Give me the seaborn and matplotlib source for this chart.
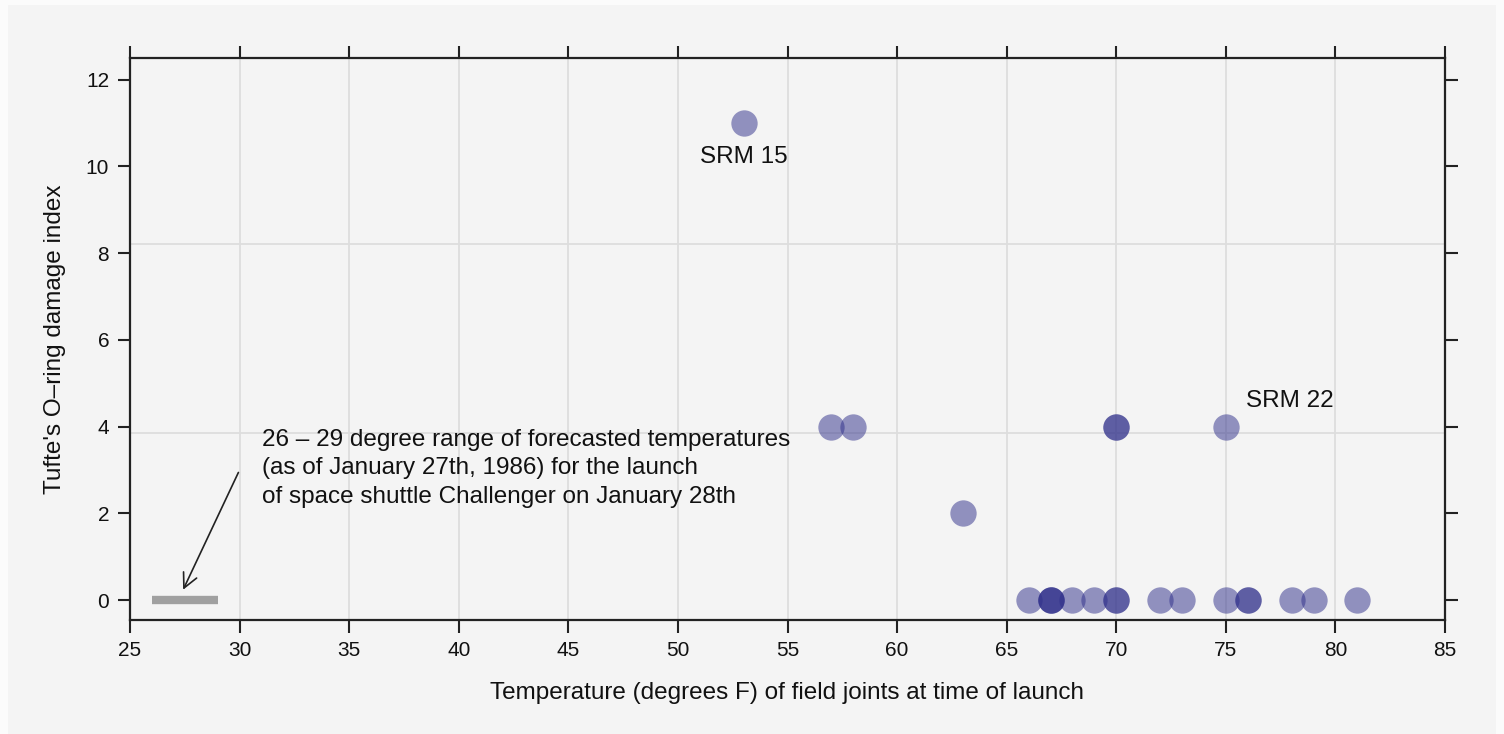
import matplotlib
matplotlib.use("Agg")
import matplotlib.pyplot as plt
from matplotlib.patches import Rectangle
import seaborn as sns
import pandas as pd

# Data
temperature = [53, 57, 58, 63, 70, 70, 75,
               66, 67, 67, 67, 68, 69, 70, 70, 72, 73, 75, 76, 76, 78, 79, 81]
damage_index = [11, 4, 4, 2, 4, 4, 4,
                0, 0, 0, 0, 0, 0, 0, 0, 0, 0, 0, 0, 0, 0, 0, 0]
x_ticks = [25, 30, 35, 40, 45, 50, 55, 60, 65, 70, 75, 80, 85]
y_ticks = [0, 2, 4, 6, 8, 10, 12]
forecast_range = [26, 29]
h_grid = [3.85, 8.2]

df = pd.DataFrame({"temp": temperature, "damage": damage_index})

sns.set_theme(style="white")
plt.rcParams["font.family"] = ["Liberation Sans", "DejaVu Sans"]

bg = "#f4f4f4"
fig = plt.figure(figsize=(15.04, 7.34), dpi=100, facecolor="#fbfbfb")
fig.patches.append(Rectangle((8 / 1504, 0), 1 - 16 / 1504, 1 - 5 / 734,
                             transform=fig.transFigure, facecolor=bg,
                             edgecolor="none", zorder=-10))
ax = fig.add_axes([130 / 1504, 114 / 734, 1315 / 1504, 562 / 734])
ax.set_facecolor(bg)

for xv in x_ticks[1:-1]:
    ax.axvline(xv, color="#dddddd", lw=1.3, zorder=0)
for yv in h_grid:
    ax.axhline(yv, color="#dddddd", lw=1.3, zorder=0)

ax.plot(forecast_range, [0, 0], color="#a0a0a0", lw=6, solid_capstyle="butt", zorder=2)

sns.scatterplot(data=df, x="temp", y="damage", ax=ax, color="#2e2e8a",
                alpha=0.5, s=360, linewidth=0, zorder=3)

ax.set_xlim(25, 85)
ax.set_ylim(-0.46, 12.5)
ax.set_xticks(x_ticks)
ax.set_yticks(y_ticks)
ax.tick_params(axis="both", which="both", direction="out", length=9, width=1.5,
               color="#222222", labelsize=15, labelcolor="#111111",
               top=True, right=True, bottom=True, left=True,
               labeltop=False, labelright=False, pad=6)
for sp in ax.spines.values():
    sp.set_visible(True)
    sp.set_color("#222222")
    sp.set_linewidth(1.6)

ax.set_xlabel("Temperature (degrees F) of field joints at time of launch",
              fontsize=17.5, color="#111111", labelpad=16)
ax.set_ylabel("Tufte's O\u2013ring damage index", fontsize=17.5,
              color="#111111", labelpad=14)

ax.text(53, 10.22, "SRM 15", ha="center", va="center", fontsize=17.5, color="#111111")
ax.text(75.9, 4.6, "SRM 22", ha="left", va="center", fontsize=17.5, color="#111111")
ax.text(31.0, 3.95,
        "26 \u2013 29 degree range of forecasted temperatures\n"
        "(as of January 27th, 1986) for the launch\n"
        "of space shuttle Challenger on January 28th",
        ha="left", va="top", fontsize=17.5, color="#111111", linespacing=1.38)
ax.annotate("", xy=(27.37, 0.18), xytext=(30.0, 3.0),
            arrowprops=dict(arrowstyle="->", color="#222222", lw=1.2,
                            mutation_scale=26))

fig.savefig("out.png", dpi=100, facecolor=fig.get_facecolor())
